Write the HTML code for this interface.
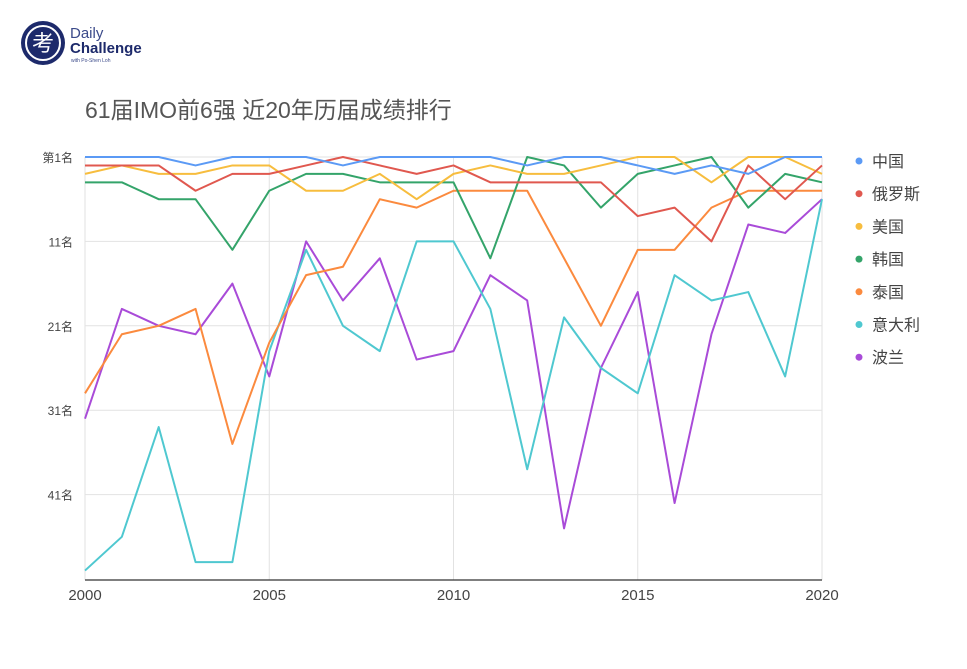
<!DOCTYPE html>
<html><head><meta charset="utf-8">
<style>
body{margin:0;background:#fff;width:967px;height:664px;overflow:hidden;font-family:"Liberation Sans","Noto Sans CJK SC",sans-serif;}
svg text{font-family:"Liberation Sans","Noto Sans CJK SC",sans-serif;}
</style></head>
<body>
<svg width="967" height="664" viewBox="0 0 967 664">
  <g>
    <circle cx="43" cy="43" r="22" fill="#1d2a6b"/>
    <circle cx="43" cy="43" r="17" fill="none" stroke="#fff" stroke-width="2"/>
    <text x="43" y="51" font-size="22" fill="#fff" text-anchor="middle">考</text>
    <text x="70" y="38" font-size="15" fill="#3b4a8a">Daily</text>
    <text x="70" y="53" font-size="15" font-weight="bold" fill="#1d2a6b">Challenge</text>
    <text x="71" y="62" font-size="5" fill="#3b4a8a">with Po-Shen Loh</text>
  </g>
  <text x="85" y="118" font-size="23" fill="#555">61届IMO前6强 近20年历届成绩排行</text>
  <g id="grid"></g>
  <g id="series"></g>
  <g id="legend"></g>
</svg>
<script>
const years=[2000,2001,2002,2003,2004,2005,2006,2007,2008,2009,2010,2011,2012,2013,2014,2015,2016,2017,2018,2019,2020];
const seriesNames=["中国","俄罗斯","美国","韩国","泰国","意大利","波兰"];
const china=[1,1,1,2,1,1,1,2,1,1,1,1,2,1,1,2,3,2,3,1,1];
const russia=[2,2,2,5,3,3,2,1,2,3,2,4,4,4,4,8,7,11,2,6,2];
const usa=[3,2,3,3,2,2,5,5,3,6,3,2,3,3,2,1,1,4,1,1,3];
const korea=[4,4,6,6,12,5,3,3,4,4,4,13,1,2,7,3,2,1,7,3,4];
const thailand=[29,22,21,19,35,23,15,14,6,7,5,5,5,13,21,12,12,7,5,5,5];
const italy=[50,46,33,49,49,24,12,21,24,11,11,19,38,20,26,29,15,18,17,27,6];
const poland=[32,19,21,22,16,27,11,18,13,25,24,15,18,45,26,17,42,22,9,10,6];
const yTicks=[1,11,21,31,41];
const yTickLabels=["第1名","11名","21名","31名","41名"];
const xTicks=[2000,2005,2010,2015,2020];
const colors=["#5b9af5","#e0584f","#f7bd3e","#34a46a","#fb8a3e","#4fc8d0","#a94bd8"];
const allSeries=[china,russia,usa,korea,thailand,italy,poland];

const X0=85,X1=822,Y0=157,YB=580;
const xs=y=>X0+(y-2000)*(X1-X0)/20;
const ys=r=>Y0+(r-1)*8.44;
const NS="http://www.w3.org/2000/svg";
function mk(tag,attrs,parent){const e=document.createElementNS(NS,tag);for(const k in attrs)e.setAttribute(k,attrs[k]);parent.appendChild(e);return e;}
const grid=document.getElementById('grid');
yTicks.forEach((t,i)=>{
  const l=mk('line',{x1:X0,x2:X1,y1:ys(t),y2:ys(t),stroke:'#e2e2e2','stroke-width':1},grid);
  
  
  const tx=mk('text',{x:73,y:ys(t)+5,'font-size':12,fill:'#444','text-anchor':'end'},grid);
  tx.textContent=yTickLabels[i];
  
  
});
xTicks.forEach(t=>{
  const l=mk('line',{x1:xs(t),x2:xs(t),y1:Y0,y2:YB,stroke:'#e2e2e2','stroke-width':1},grid);
  
  
  const tx=mk('text',{x:xs(t),y:600,'font-size':15,fill:'#444','text-anchor':'middle'},grid);
  tx.textContent=t;
  
  
});
const ax=mk('line',{x1:X0,x2:X1,y1:YB,y2:YB,stroke:'#333','stroke-width':1.2},grid);



const sg=document.getElementById('series');
for(let s=allSeries.length-1;s>=0;s--){
  const pts=allSeries[s].map((v,i)=>xs(years[i])+','+ys(v)).join(' ');
  const p=mk('polyline',{points:pts,fill:'none',stroke:colors[s],'stroke-width':2,'stroke-linejoin':'round'},sg);
  
  
}
const lg=document.getElementById('legend');
seriesNames.forEach((n,i)=>{
  const y=161+i*32.7;
  const g=mk('g',{},lg);
  
  
  mk('circle',{cx:859,cy:y,r:3.5,fill:colors[i]},g);
  const t=mk('text',{x:872,y:y+6,'font-size':16,fill:'#444'},g);
  t.textContent=n;
});
</script>
</body></html>
